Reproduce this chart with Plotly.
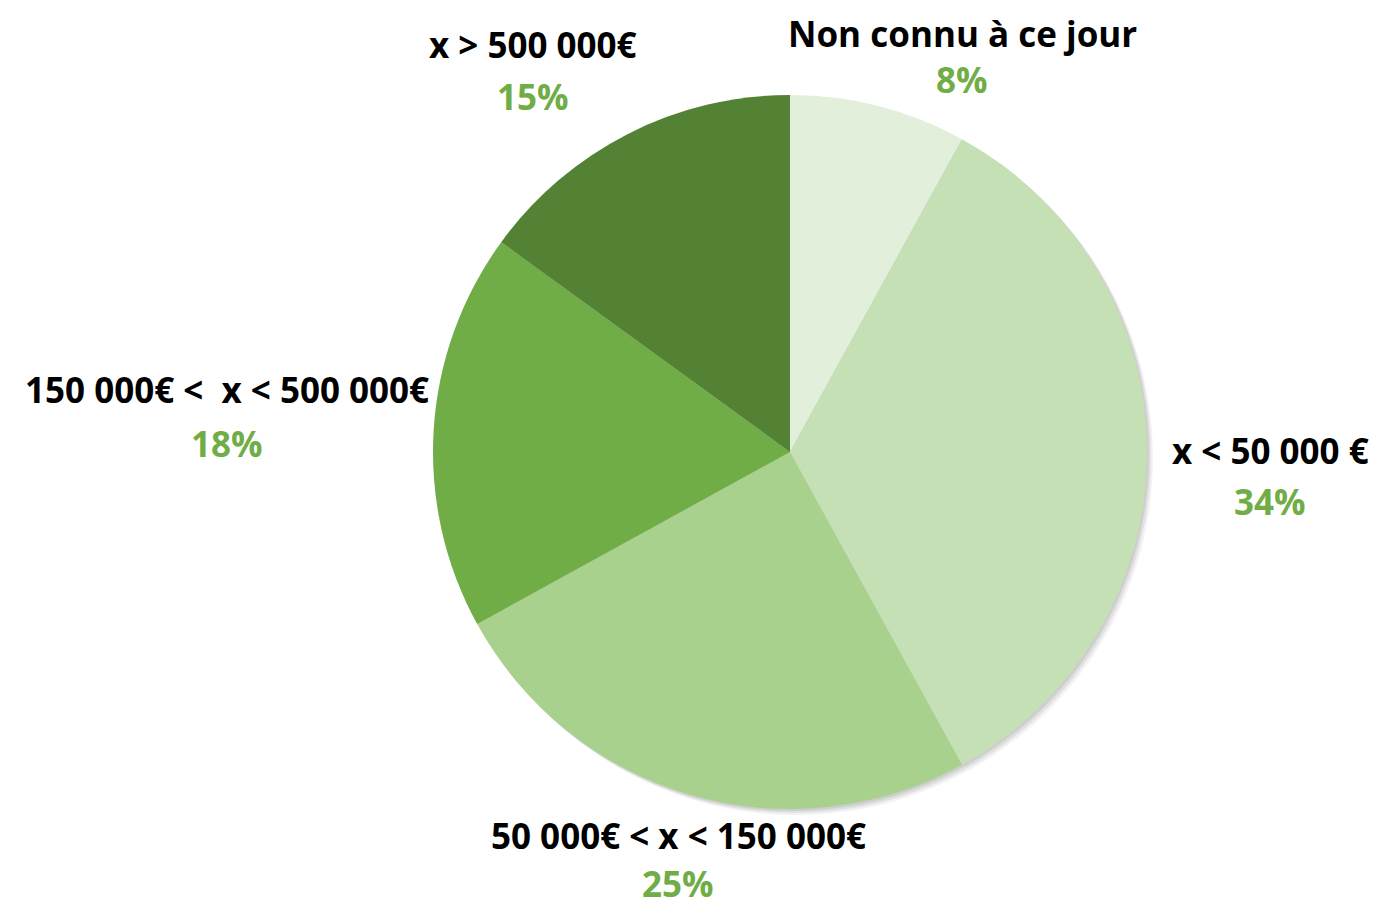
import plotly.graph_objects as go

labels = ["Non connu à ce jour", "x < 50 000 €", "50 000€ < x < 150 000€",
          "150 000€ <  x < 500 000€", "x > 500 000€"]
values = [8, 34, 25, 18, 15]
colors = ["#E2EFDA", "#C5E0B4", "#A9D18E", "#70AD47", "#548235"]

# label anchor positions (screen pixels): (x, y_name, y_pct)
label_pos = [(962, 33, 80), (1270, 450, 501), (678, 835, 883), (227, 390, 443), (533, 45, 97)]

W, H = 1380, 906
OFF = 8  # page body margin
cx, cy, r = 790 - OFF, 452 - OFF, 357

fig = go.Figure()
fig.add_trace(go.Pie(
    labels=labels, values=values, sort=False, direction="clockwise", rotation=0,
    marker=dict(colors=colors, line=dict(width=0)),
    textinfo="none", hoverinfo="label+percent", showlegend=False,
    domain=dict(x=[(cx - r) / W, (cx + r) / W], y=[1 - (cy + r) / H, 1 - (cy - r) / H]),
))

# soft shadow behind pie
for off, a in [(6, 0.05), (4, 0.07), (2, 0.08)]:
    fig.add_shape(type="circle", xref="paper", yref="paper", layer="below",
                  x0=(cx - r + off) / W, x1=(cx + r + off) / W,
                  y0=1 - (cy + r + off) / H, y1=1 - (cy - r + off) / H,
                  fillcolor=f"rgba(0,0,0,{a})", line=dict(width=0))

font_family = "'Open Sans', Lato, sans-serif"
for lab, v, (x, yn, yp) in zip(labels, values, label_pos):
    fig.add_annotation(x=(x - OFF) / W, y=1 - (yn - OFF) / H, xref="paper", yref="paper",
                       text=f"<b>{lab}</b>", showarrow=False, xanchor="center", yanchor="middle",
                       borderpad=0, font=dict(family=font_family, size=35, color="#000000"))
    fig.add_annotation(x=(x - OFF) / W, y=1 - (yp - OFF) / H, xref="paper", yref="paper",
                       text=f"<b>{v}%</b>", showarrow=False, xanchor="center", yanchor="middle",
                       borderpad=0, font=dict(family=font_family, size=35, color="#70AD47"))

fig.update_layout(width=W, height=H, margin=dict(l=0, r=0, t=0, b=0),
                  paper_bgcolor="white", plot_bgcolor="white")
fig.write_html("out.html")
